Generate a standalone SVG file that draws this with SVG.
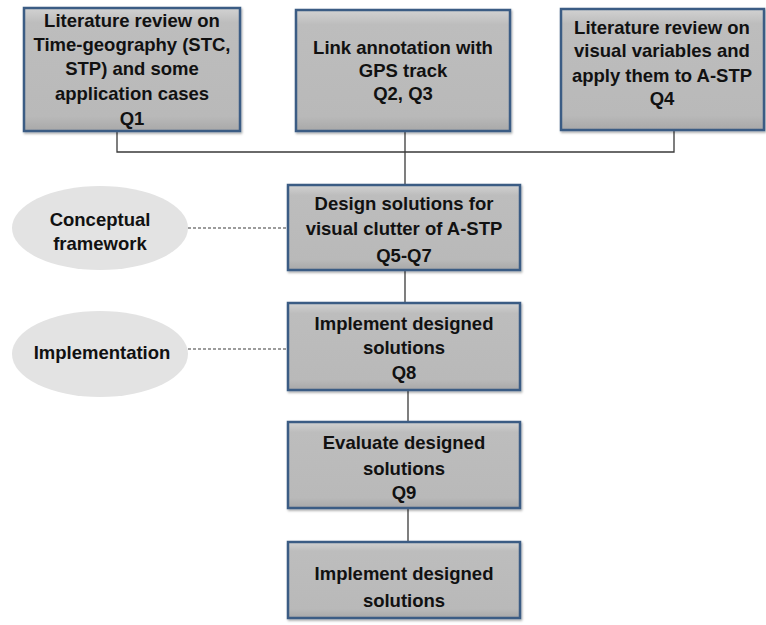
<svg xmlns="http://www.w3.org/2000/svg" width="766" height="625" viewBox="0 0 766 625">
  <style>
    .box { fill: url(#boxFill); stroke: #3b5b84; stroke-width: 2.5; filter: url(#shadow); }
    .oval { fill: #e3e3e3; }
    .lbl { font-family: "Liberation Sans", Arial, sans-serif; font-weight: bold; font-size: 18.5px; fill: #111111; text-anchor: middle; }
    .link { fill: none; stroke: #3a3a3a; stroke-width: 1.3; }
    .dash { fill: none; stroke: #3a3a3a; stroke-width: 1.2; stroke-dasharray: 3 2; }
  </style>
  <defs>
    <linearGradient id="boxFill" x1="0" y1="0" x2="0" y2="1">
      <stop offset="0" stop-color="#d2d2d2"/>
      <stop offset="0.12" stop-color="#bdbdbd"/>
      <stop offset="0.88" stop-color="#b9b9b9"/>
      <stop offset="1" stop-color="#a8a8a8"/>
    </linearGradient>
    <filter id="shadow" x="-5%" y="-5%" width="110%" height="115%">
      <feDropShadow dx="1" dy="1.5" stdDeviation="1" flood-color="#000" flood-opacity="0.35"/>
    </filter>
  </defs>

  <rect width="766" height="625" fill="#ffffff"/>

  <!-- connectors -->
  <g id="connectors">
    <polyline class="link" points="117,131 117,152 674,152 674,130"/>
    <line class="link" x1="405" y1="131" x2="405" y2="185"/>
    <line class="link" x1="405" y1="270" x2="405" y2="303"/>
    <line class="link" x1="408" y1="390" x2="408" y2="422"/>
    <line class="link" x1="408" y1="508" x2="408" y2="542"/>
    <line class="dash" x1="188" y1="228" x2="288" y2="228"/>
    <line class="dash" x1="188" y1="349" x2="288" y2="349"/>
  </g>

  <g id="n-litreview-timegeo">
    <rect class="box" x="24" y="8" width="216" height="123"/>
    <text class="lbl" x="132" y="27">Literature review on</text>
    <text class="lbl" x="132" y="51">Time-geography (STC,</text>
    <text class="lbl" x="132" y="75">STP) and some</text>
    <text class="lbl" x="132" y="100">application cases</text>
    <text class="lbl" x="132" y="125">Q1</text>
  </g>

  <g id="n-link-annotation">
    <rect class="box" x="296" y="10" width="214" height="121"/>
    <text class="lbl" x="403" y="54">Link annotation with</text>
    <text class="lbl" x="403" y="77">GPS track</text>
    <text class="lbl" x="403" y="100">Q2, Q3</text>
  </g>

  <g id="n-litreview-visual">
    <rect class="box" x="561" y="9" width="203" height="121"/>
    <text class="lbl" x="662" y="34">Literature review on</text>
    <text class="lbl" x="662" y="57">visual variables and</text>
    <text class="lbl" x="662" y="82">apply them to A-STP</text>
    <text class="lbl" x="662" y="105">Q4</text>
  </g>

  <g id="n-conceptual">
    <ellipse class="oval" cx="100" cy="228" rx="88" ry="42"/>
    <text class="lbl" x="100" y="226">Conceptual</text>
    <text class="lbl" x="100" y="250">framework</text>
  </g>

  <g id="n-design">
    <rect class="box" x="288" y="185" width="232" height="85"/>
    <text class="lbl" x="404" y="210">Design solutions for</text>
    <text class="lbl" x="404" y="235">visual clutter of A-STP</text>
    <text class="lbl" x="404" y="262">Q5-Q7</text>
  </g>

  <g id="n-implementation">
    <ellipse class="oval" cx="100" cy="354" rx="88" ry="43"/>
    <text class="lbl" x="102" y="359">Implementation</text>
  </g>

  <g id="n-implement-q8">
    <rect class="box" x="288" y="303" width="232" height="87"/>
    <text class="lbl" x="404" y="330">Implement designed</text>
    <text class="lbl" x="404" y="354">solutions</text>
    <text class="lbl" x="404" y="379">Q8</text>
  </g>

  <g id="n-evaluate">
    <rect class="box" x="288" y="422" width="232" height="86"/>
    <text class="lbl" x="404" y="449">Evaluate designed</text>
    <text class="lbl" x="404" y="475">solutions</text>
    <text class="lbl" x="404" y="499">Q9</text>
  </g>

  <g id="n-implement-final">
    <rect class="box" x="288" y="542" width="232" height="76"/>
    <text class="lbl" x="404" y="580">Implement designed</text>
    <text class="lbl" x="404" y="607">solutions</text>
  </g>
</svg>
